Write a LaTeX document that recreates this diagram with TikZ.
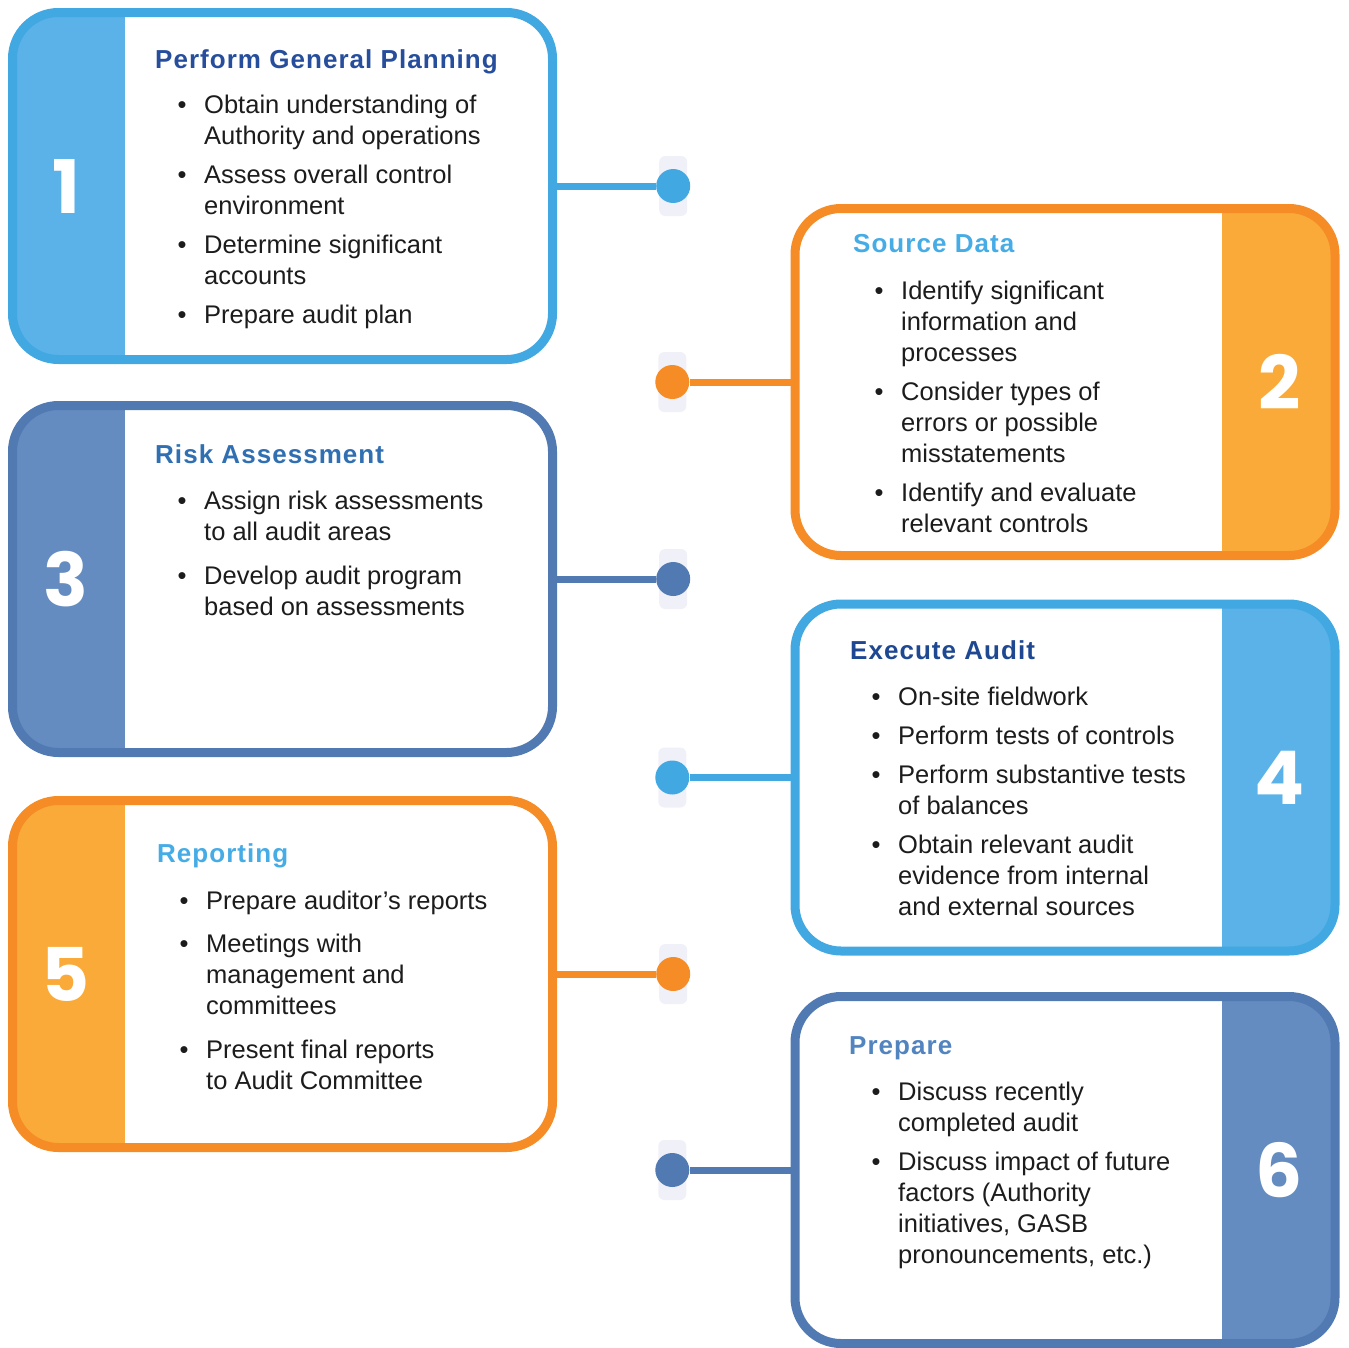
\documentclass[tikz,border=0pt]{standalone}
\usepackage{fontspec}
\setmainfont{Liberation Sans}
\newfontfamily\headfont{Liberation Sans}[LetterSpace=4]
\newfontfamily\digitfont{Poppins}
\usepackage{tikz}
\usetikzlibrary{positioning,backgrounds}
\definecolor{skyblue}{RGB}{66,168,226}
\definecolor{skystrip}{RGB}{90,178,232}
\definecolor{amber}{RGB}{245,140,38}
\definecolor{amberstrip}{RGB}{250,170,56}
\definecolor{slate}{RGB}{82,122,178}
\definecolor{slatestrip}{RGB}{100,140,192}
\definecolor{navy}{RGB}{38,78,156}
\definecolor{skytitle}{RGB}{70,172,230}
\definecolor{steel}{RGB}{48,112,178}
\definecolor{deepnavy}{RGB}{30,72,145}
\definecolor{softsteel}{RGB}{82,132,192}
\definecolor{ink}{RGB}{28,28,28}
\definecolor{haze}{RGB}{240,240,248}

\begin{document}
\begin{tikzpicture}[x=1pt, y=-1pt,
    node distance=99pt,
    stage/.style={draw=#1, line width=9pt, rounded corners=46pt, fill=white, minimum width=540pt, minimum height=347pt, inner sep=0pt},
    leftstage/.style 2 args={stage=#1, path picture={\fill[#2, sharp corners] (path picture bounding box.north west) rectangle ([xshift=112.5pt]path picture bounding box.south west);}},
    rightstage/.style 2 args={stage=#1, path picture={\fill[#2, sharp corners] ([xshift=-113.5pt]path picture bounding box.north east) rectangle (path picture bounding box.south east);}},
    stagenum/.style={text=white, inner sep=0pt, font=\digitfont\bfseries\fontsize{74}{74}\selectfont},
    stagetitle/.style={anchor=base west, inner sep=0pt, text=#1, font=\headfont\bfseries\fontsize{26}{31}\selectfont},
    itemlist/.style={anchor=base west, inner sep=0pt, text=ink, font=\fontsize{25.5}{31}\selectfont},
    joint/.style={circle, fill=#1, minimum size=34pt, inner sep=0pt},
    link/.style={draw=#1, line width=7pt},
    ghost/.style={fill=haze, rounded corners=6pt}
]
\useasboundingbox (0,0) rectangle (1349,1347);

% stage boxes
\node[leftstage={skyblue}{skystrip}] (plan) at (282.5,186) {};
\node[rightstage={amber}{amberstrip}] (source) at (1065,382) {};
\node[leftstage={slate}{slatestrip}] (risk) at (282.5,579) {};
\node[rightstage={skyblue}{skystrip}] (exec) at (1065,777.5) {};
\node[leftstage={amber}{amberstrip}] (report) at (282.5,974) {};
\node[rightstage={slate}{slatestrip}] (prep) at (1065,1170) {};

% numbers
\node[stagenum] (n1) at ([xshift=58pt]plan.west) {1};
\node[stagenum] (n2) at ([xshift=-60pt]source.east) {2};
\node[stagenum] (n3) at ([xshift=58pt]risk.west) {3};
\node[stagenum] (n4) at ([xshift=-60pt]exec.east) {4};
\node[stagenum] (n5) at ([xshift=58pt]report.west) {5};
\node[stagenum] (n6) at ([xshift=-60pt]prep.east) {6};

% titles
\node[stagetitle=navy] (plantitle) at (155,68) {Perform General Planning};
\node[stagetitle=skytitle] (sourcetitle) at (853,252) {Source Data};
\node[stagetitle=steel] (risktitle) at (155,463) {Risk Assessment};
\node[stagetitle=deepnavy] (exectitle) at (850,659) {Execute Audit};
\node[stagetitle=skytitle] (reporttitle) at (157,862) {Reporting};
\node[stagetitle=softsteel] (preptitle) at (849,1054) {Prepare};

% bullet lists
\node[itemlist] (planlist) at (177.5,113) {\begin{tabular}[t]{@{}c@{\hspace{17.6pt}}l@{}}
\textbullet & Obtain understanding of\\ & Authority and operations\\[8pt]
\textbullet & Assess overall control\\ & environment\\[8pt]
\textbullet & Determine significant\\ & accounts\\[8pt]
\textbullet & Prepare audit plan
\end{tabular}};
\node[itemlist] (sourcelist) at (874.5,299) {\begin{tabular}[t]{@{}c@{\hspace{17.6pt}}l@{}}
\textbullet & Identify significant\\ & information and\\ & processes\\[8pt]
\textbullet & Consider types of\\ & errors or possible\\ & misstatements\\[8pt]
\textbullet & Identify and evaluate\\ & relevant controls
\end{tabular}};
\node[itemlist] (risklist) at (177.5,509) {\begin{tabular}[t]{@{}c@{\hspace{17.6pt}}l@{}}
\textbullet & Assign risk assessments\\ & to all audit areas\\[13pt]
\textbullet & Develop audit program\\ & based on assessments
\end{tabular}};
\node[itemlist] (execlist) at (871.5,705) {\begin{tabular}[t]{@{}c@{\hspace{17.6pt}}l@{}}
\textbullet & On-site fieldwork\\[8pt]
\textbullet & Perform tests of controls\\[8pt]
\textbullet & Perform substantive tests\\ & of balances\\[8pt]
\textbullet & Obtain relevant audit\\ & evidence from internal\\ & and external sources
\end{tabular}};
\node[itemlist] (reportlist) at (179.5,909) {\begin{tabular}[t]{@{}c@{\hspace{17.6pt}}l@{}}
\textbullet & Prepare auditor’s reports\\[12.5pt]
\textbullet & Meetings with\\ & management and\\ & committees\\[12.5pt]
\textbullet & Present final reports\\ & to Audit Committee
\end{tabular}};
\node[itemlist] (preplist) at (871.5,1100) {\begin{tabular}[t]{@{}c@{\hspace{17.6pt}}l@{}}
\textbullet & Discuss recently\\ & completed audit\\[8pt]
\textbullet & Discuss impact of future\\ & factors (Authority\\ & initiatives, GASB\\ & pronouncements, etc.)
\end{tabular}};

% connector dots
\node[joint=skyblue, right=of plan] (d1) {};
\node[joint=amber, left=101pt of source] (d2) {};
\node[joint=slate, right=of risk] (d3) {};
\node[joint=skyblue, left=101pt of exec] (d4) {};
\node[joint=amber, right=of report] (d5) {};
\node[joint=slate, left=101pt of prep] (d6) {};

\draw[link=skyblue] (plan) -- (d1);
\draw[link=amber] (source) -- (d2);
\draw[link=slate] (risk) -- (d3);
\draw[link=skyblue] (exec) -- (d4);
\draw[link=amber] (report) -- (d5);
\draw[link=slate] (prep) -- (d6);

\begin{scope}[on background layer]
\foreach \d in {d1,d2,d3,d4,d5,d6}
  \fill[ghost] ([shift={(-14pt,-30pt)}]\d.center) rectangle ([shift={(14pt,30pt)}]\d.center);
\end{scope}
\end{tikzpicture}
\end{document}
